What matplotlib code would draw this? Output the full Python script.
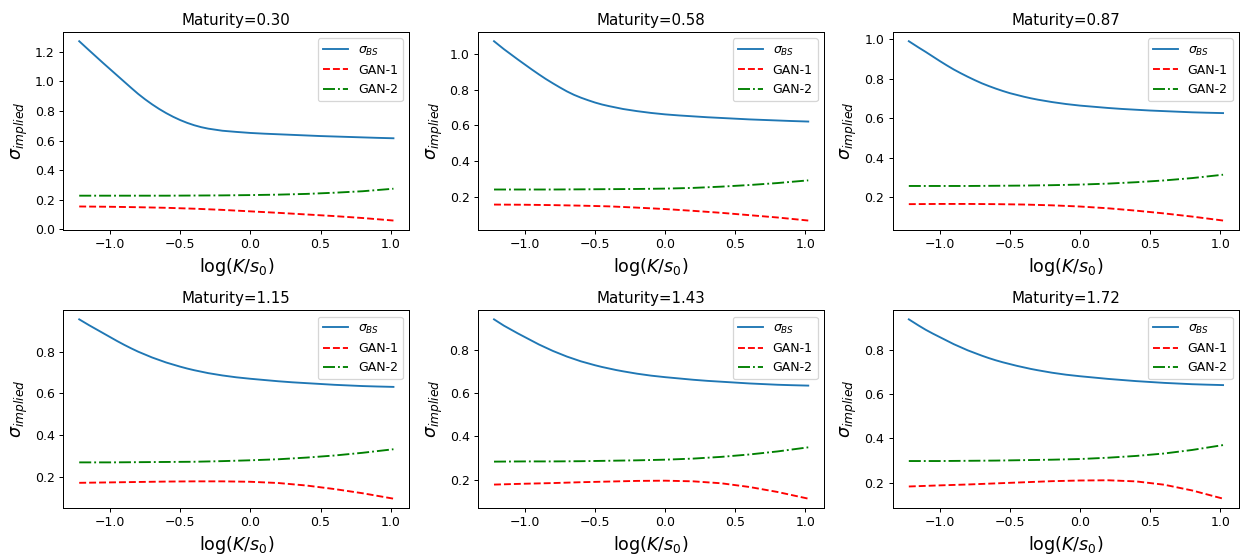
import numpy as np
import matplotlib
matplotlib.use("Agg")
import matplotlib.pyplot as plt

# log-moneyness grids (finer where the BS smile bends)
x_bs = [-1.22, -1.15, -1.1, -1.05, -1.0, -0.95, -0.9, -0.85, -0.8, -0.75, -0.7,
        -0.65, -0.6, -0.55, -0.5, -0.45, -0.4, -0.35, -0.3, -0.2, -0.1,
        0.0, 0.1, 0.2, 0.3, 0.4, 0.5, 0.6, 0.7, 0.8, 0.9, 1.02]
x_gan = [-1.22, -1.0, -0.8, -0.6, -0.4, -0.2, 0.0, 0.2, 0.4, 0.6, 0.8, 1.02]

maturities = [0.30, 0.58, 0.87, 1.15, 1.43, 1.72]

# Black-Scholes implied vol for each maturity
bs_030 = [1.272, 1.211, 1.168, 1.125, 1.083, 1.041, 0.999, 0.957, 0.916, 0.879, 0.845,
          0.814, 0.786, 0.761, 0.739, 0.72, 0.704, 0.691, 0.681, 0.667, 0.659,
          0.652, 0.647, 0.643, 0.639, 0.635, 0.631, 0.628, 0.625, 0.622, 0.619, 0.616]
bs_058 = [1.07, 1.026, 0.997, 0.968, 0.94, 0.912, 0.885, 0.859, 0.835, 0.812, 0.79,
          0.771, 0.755, 0.741, 0.728, 0.717, 0.708, 0.70, 0.692, 0.68, 0.67,
          0.662, 0.656, 0.651, 0.646, 0.642, 0.638, 0.634, 0.631, 0.628, 0.625, 0.622]
bs_087 = [0.99, 0.958, 0.936, 0.913, 0.89, 0.868, 0.847, 0.828, 0.81, 0.793, 0.777,
          0.763, 0.75, 0.738, 0.727, 0.718, 0.709, 0.701, 0.694, 0.682, 0.672,
          0.664, 0.658, 0.652, 0.647, 0.643, 0.639, 0.636, 0.633, 0.63, 0.628, 0.626]
bs_115 = [0.955, 0.927, 0.908, 0.889, 0.87, 0.851, 0.833, 0.816, 0.80, 0.786, 0.772,
          0.76, 0.748, 0.738, 0.728, 0.719, 0.711, 0.704, 0.697, 0.686, 0.677,
          0.67, 0.664, 0.658, 0.653, 0.649, 0.645, 0.641, 0.638, 0.635, 0.633, 0.631]
bs_143 = [0.94, 0.911, 0.893, 0.875, 0.858, 0.841, 0.824, 0.809, 0.794, 0.781, 0.768,
          0.757, 0.746, 0.737, 0.728, 0.72, 0.713, 0.706, 0.70, 0.689, 0.68,
          0.673, 0.667, 0.661, 0.656, 0.652, 0.648, 0.644, 0.641, 0.638, 0.636, 0.634]
bs_172 = [0.937, 0.909, 0.89, 0.873, 0.857, 0.841, 0.825, 0.811, 0.797, 0.785, 0.773,
          0.762, 0.752, 0.743, 0.735, 0.727, 0.72, 0.713, 0.707, 0.696, 0.687,
          0.68, 0.674, 0.668, 0.663, 0.658, 0.654, 0.65, 0.647, 0.644, 0.642, 0.64]

# GAN-1 implied vol
g1_030 = [0.155, 0.153, 0.150, 0.146, 0.140, 0.132, 0.122, 0.112, 0.101, 0.090, 0.077, 0.060]
g1_058 = [0.159, 0.158, 0.156, 0.153, 0.149, 0.142, 0.134, 0.124, 0.113, 0.100, 0.087, 0.070]
g1_087 = [0.165, 0.166, 0.166, 0.165, 0.163, 0.159, 0.153, 0.144, 0.132, 0.118, 0.102, 0.082]
g1_115 = [0.171, 0.173, 0.175, 0.177, 0.178, 0.178, 0.176, 0.170, 0.158, 0.141, 0.121, 0.095]
g1_143 = [0.177, 0.181, 0.184, 0.188, 0.191, 0.194, 0.195, 0.192, 0.183, 0.166, 0.143, 0.112]
g1_172 = [0.182, 0.187, 0.191, 0.196, 0.201, 0.206, 0.209, 0.210, 0.205, 0.190, 0.164, 0.127]

# GAN-2 implied vol
g2_030 = [0.228, 0.228, 0.228, 0.228, 0.229, 0.230, 0.232, 0.235, 0.240, 0.248, 0.258, 0.275]
g2_058 = [0.243, 0.243, 0.243, 0.244, 0.245, 0.246, 0.248, 0.252, 0.259, 0.268, 0.279, 0.294]
g2_087 = [0.257, 0.257, 0.257, 0.258, 0.259, 0.261, 0.264, 0.269, 0.276, 0.285, 0.297, 0.314]
g2_115 = [0.269, 0.269, 0.270, 0.271, 0.272, 0.275, 0.279, 0.284, 0.292, 0.302, 0.315, 0.332]
g2_143 = [0.283, 0.284, 0.284, 0.285, 0.287, 0.289, 0.292, 0.297, 0.305, 0.316, 0.330, 0.349]
g2_172 = [0.297, 0.297, 0.298, 0.299, 0.301, 0.303, 0.306, 0.312, 0.320, 0.331, 0.347, 0.369]

bs_all = [bs_030, bs_058, bs_087, bs_115, bs_143, bs_172]
g1_all = [g1_030, g1_058, g1_087, g1_115, g1_143, g1_172]
g2_all = [g2_030, g2_058, g2_087, g2_115, g2_143, g2_172]

fig, axes = plt.subplots(2, 3, figsize=(1245/90, 556/90), dpi=90)
plt.subplots_adjust(left=0.051, right=0.995, top=0.942, bottom=0.087,
                    wspace=0.2, hspace=0.41)

for i, ax in enumerate(axes.flat):
    ax.plot(x_bs, bs_all[i], label=r'$\sigma_{BS}$')
    ax.plot(x_gan, g1_all[i], 'r--', label='GAN-1')
    ax.plot(x_gan, g2_all[i], 'g-.', label='GAN-2')
    ax.set_title('Maturity=%.2f' % maturities[i])
    ax.set_xlabel(r'$\log(K/s_0)$', fontsize=14)
    ax.set_ylabel(r'$\sigma_{implied}$', fontsize=14)
    ax.legend(loc='upper right')

fig.savefig('out.png', dpi=90)
